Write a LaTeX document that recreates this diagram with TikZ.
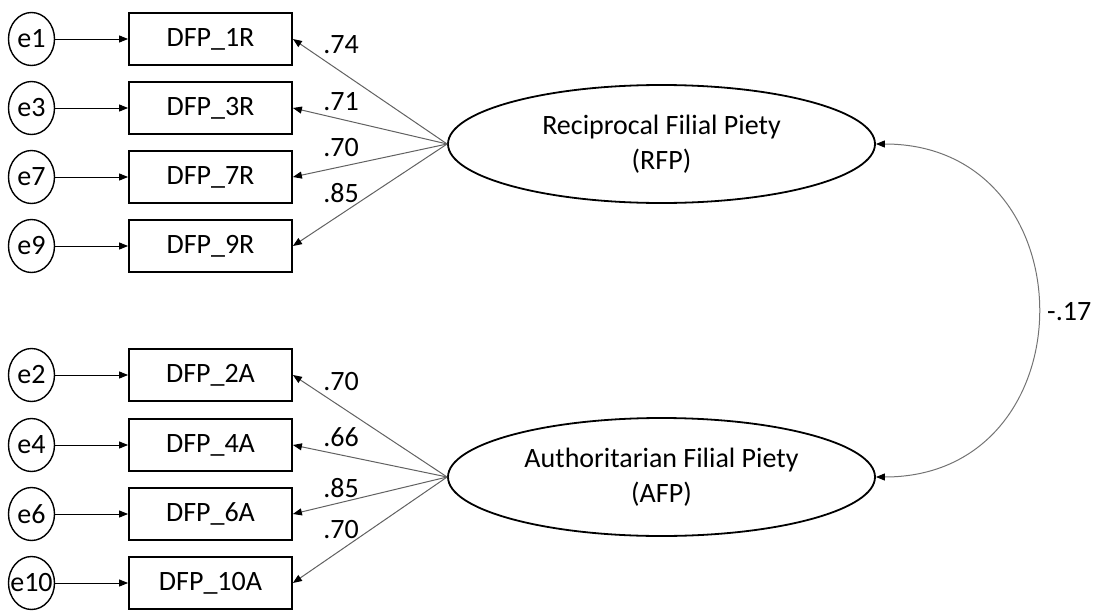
\documentclass[tikz,border=0pt]{standalone}
\usepackage{fontspec}
\setmainfont{Carlito}
\usetikzlibrary{shapes.geometric,arrows.meta}

\tikzset{
  txt/.style={font=\fontsize{28}{35}\selectfont},
  indicator/.style={txt, draw, line width=1.8pt, rectangle,
    minimum width=163pt, minimum height=52pt, inner sep=0pt},
  errvar/.style={txt, draw, line width=1.4pt, ellipse,
    minimum width=46pt, minimum height=53pt, inner xsep=-5pt, inner ysep=0pt},
  latent/.style={txt, draw, line width=1.8pt, ellipse,
    minimum width=427pt, minimum height=118pt, inner sep=0pt, align=center},
  coef/.style={txt, inner sep=0pt},
  tip/.style={-{Triangle[length=9pt,width=7pt,color=black]}},
  errpath/.style={tip, line width=0.9pt, black},
  loading/.style={tip, line width=1pt, black!62},
  covpath/.style={{Triangle[length=9pt,width=7pt,color=black]}-{Triangle[length=9pt,width=7pt,color=black]},
    line width=1pt, black!55}
}

\begin{document}
\begin{tikzpicture}[x=1pt,y=-1pt]
\useasboundingbox (0,0) rectangle (1095,613);

% latent factors
\node[latent] (RFP) at (661.5,144) {Reciprocal Filial Piety\\(RFP)};
\node[latent] (AFP) at (661.5,477) {Authoritarian Filial Piety\\(AFP)};

% indicators and their error terms
\foreach \name/\err/\y in {1R/e1/39, 3R/e3/108, 7R/e7/177, 9R/e9/246,
                            2A/e2/375, 4A/e4/445, 6A/e6/514, 10A/e10/583} {
  \node[indicator] (DFP\name) at (210.5,\y) {DFP\_\name};
  \node[errvar] (\err) at (31.5,\y) {\err};
  \draw[errpath] (\err) -- (DFP\name);
}

% factor loadings
\foreach \name in {1R,3R,7R,9R}
  \draw[loading] (RFP.west) -- (DFP\name.east);
\foreach \name in {2A,4A,6A,10A}
  \draw[loading] (AFP.west) -- (DFP\name.east);

% standardized loading values
\node[coef] (l1) at (341,45) {.74};
\node[coef] (l3) at (341,102) {.71};
\node[coef] (l7) at (341,148) {.70};
\node[coef] (l9) at (341,193) {.85};
\node[coef] (l2) at (341,382) {.70};
\node[coef] (l4) at (341,437) {.66};
\node[coef] (l6) at (341,488) {.85};
\node[coef] (l10) at (341,530) {.70};

% factor correlation
\draw[covpath] (RFP.east) to[out=0,in=0,looseness=1.66] (AFP.east);
\node[coef, anchor=west] (corr) at (1047,312) {-.17};
\end{tikzpicture}
\end{document}
